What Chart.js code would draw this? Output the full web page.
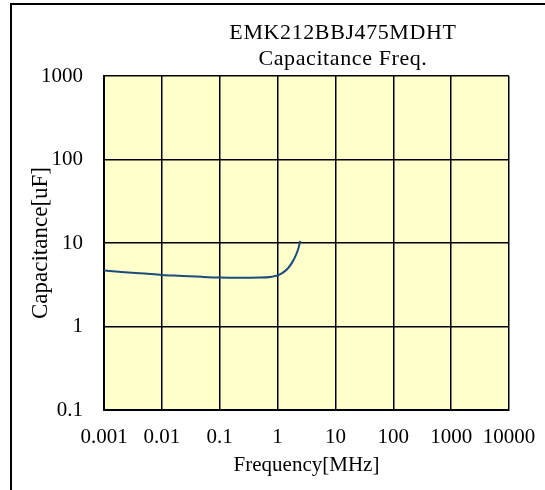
<!DOCTYPE html>
<html lang="en">
<head>
    <meta charset="UTF-8">
    <title>EMK212BBJ475MDHT Capacitance Freq.</title>
    <style>
        html, body {
            margin: 0;
            padding: 0;
            background: #fff;
        }

        #wrap {
            position: relative;
            width: 545px;
            height: 490px;
        }
    </style>
    <script src="https://cdn.jsdelivr.net/npm/chart.js"></script>
</head>
<body>
    <div id="wrap">
        <canvas id="chart" width="545" height="490"></canvas>
    </div>

    <script>
        // Chart data
        const titleLines = ['EMK212BBJ475MDHT', 'Capacitance Freq.'];
        const freqMHz = [0.001, 0.002, 0.005, 0.01, 0.02, 0.05, 0.1, 0.2, 0.5, 0.8, 1.0, 1.2, 1.5, 1.8, 2.1, 2.3, 2.46];
        const capUF = [4.68, 4.5, 4.3, 4.15, 4.05, 3.93, 3.86, 3.83, 3.85, 3.95, 4.08, 4.35, 4.95, 5.9, 7.3, 8.7, 10.6];
        const xTicks = [0.001, 0.01, 0.1, 1, 10, 100, 1000, 10000];
        const xTickLabels = ['0.001', '0.01', '0.1', '1', '10', '100', '1000', '10000'];
        const yTicks = [0.1, 1, 10, 100, 1000];
        const yTickLabels = ['0.1', '1', '10', '100', '1000'];

        const serif = "'Liberation Serif', 'Times New Roman', serif";

        // Yellow plot background, outer frame and the two-line title
        const decor = {
            id: 'decor',
            beforeDraw(chart) {
                const { ctx, chartArea: a } = chart;
                ctx.save();
                ctx.fillStyle = '#ffffcc';
                ctx.fillRect(a.left, a.top, a.right - a.left, a.bottom - a.top);
                ctx.strokeStyle = '#000';
                ctx.lineWidth = 2;
                ctx.beginPath();
                ctx.moveTo(11, 490);
                ctx.lineTo(11, 4);
                ctx.lineTo(545, 4);
                ctx.stroke();
                ctx.restore();
            },
            afterDraw(chart) {
                const { ctx, chartArea: a } = chart;
                const cx = a.left + (a.right - a.left) * 0.59;
                ctx.save();
                ctx.fillStyle = '#000';
                ctx.font = '22px ' + serif;
                ctx.letterSpacing = '0.6px';
                ctx.textAlign = 'center';
                ctx.textBaseline = 'alphabetic';
                ctx.fillText(titleLines[0], cx, 39);
                ctx.fillText(titleLines[1], cx, 65);
                ctx.restore();
            }
        };

        const points = freqMHz.map((f, i) => ({ x: f, y: capUF[i] }));

        new Chart(document.getElementById('chart'), {
            type: 'line',
            data: {
                datasets: [{
                    data: points,
                    borderColor: '#1b4b7d',
                    borderWidth: 2,
                    pointRadius: 0,
                    fill: false,
                    cubicInterpolationMode: 'monotone'
                }]
            },
            options: {
                responsive: false,
                animation: false,
                layout: {
                    padding: { left: 20, right: 36, top: 76, bottom: 0 }
                },
                plugins: {
                    legend: { display: false },
                    tooltip: { enabled: false }
                },
                scales: {
                    x: {
                        type: 'logarithmic',
                        min: 0.001,
                        max: 10000,
                        afterBuildTicks: scale => {
                            scale.ticks = xTicks.map(v => ({ value: v }));
                        },
                        afterFit: scale => {
                            scale.height = 80;
                            scale.paddingLeft = 0;
                            scale.paddingRight = 0;
                        },
                        ticks: {
                            autoSkip: false,
                            maxRotation: 0,
                            padding: 15,
                            color: '#000',
                            font: { family: serif, size: 21 },
                            callback: (value, index) => xTickLabels[index]
                        },
                        grid: {
                            color: '#000',
                            lineWidth: 1.5,
                            drawTicks: false
                        },
                        border: { color: '#000', width: 2 },
                        title: {
                            display: true,
                            text: 'Frequency[MHz]',
                            color: '#000',
                            font: { family: serif, size: 21 },
                            padding: { top: 0, bottom: 12 }
                        }
                    },
                    y: {
                        type: 'logarithmic',
                        min: 0.1,
                        max: 1000,
                        afterBuildTicks: scale => {
                            scale.ticks = yTicks.map(v => ({ value: v }));
                        },
                        afterFit: scale => {
                            scale.width = 84;
                            scale.paddingTop = 0;
                            scale.paddingBottom = 0;
                        },
                        ticks: {
                            autoSkip: false,
                            padding: 21,
                            color: '#000',
                            font: { family: serif, size: 21 },
                            callback: (value, index) => yTickLabels[index]
                        },
                        grid: {
                            color: '#000',
                            lineWidth: 1.5,
                            drawTicks: false
                        },
                        border: { color: '#000', width: 2 },
                        title: {
                            display: true,
                            text: 'Capacitance[uF]',
                            color: '#000',
                            font: { family: serif, size: 23 },
                            padding: { top: 7, bottom: 0 }
                        }
                    }
                }
            },
            plugins: [decor]
        });
    </script>
</body>
</html>
